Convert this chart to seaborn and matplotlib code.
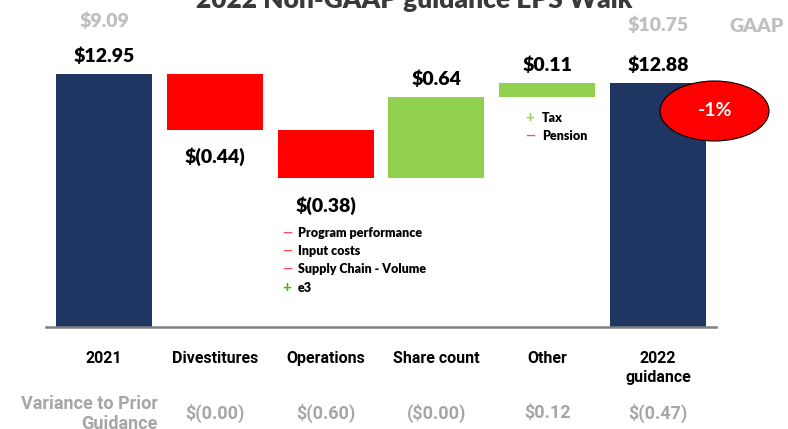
import numpy as np
import pandas as pd
import matplotlib
matplotlib.use("Agg")
import matplotlib.pyplot as plt
import matplotlib.transforms as mtransforms
from matplotlib.patches import Ellipse
import seaborn as sns

# ---------------- data ----------------
categories = ["2021", "Divestitures", "Operations", "Share count", "Other", "2022\nguidance"]
eps_2021 = 12.95
changes = [-0.44, -0.38, 0.64, 0.11]
eps_2022 = 12.88
value_labels = ["$12.95", "$(0.44)", "$(0.38)", "$0.64", "$0.11", "$12.88"]
gaap_labels = ["$9.09", "", "", "", "", "$10.75"]
variance_labels = ["", "$(0.00)", "$(0.60)", "($0.00)", "$0.12", "$(0.47)"]
ops_signs = ["\u2014", "\u2014", "\u2014", "+"]
ops_drivers = ["Program performance", "Input costs", "Supply Chain - Volume", "e3"]
other_signs = ["+", "\u2014"]
other_drivers = ["Tax", "Pension"]
title = "2022 Non-GAAP guidance EPS Walk"
badge = "-1%"

# ---------------- style ----------------
sns.set_theme(style="white")
plt.rcParams["font.family"] = ["Lato", "DejaVu Sans"]

NAVY = "#1f3562"
RED = "#ff0000"
GREEN = "#92d050"
GRAY = "#bfbfbf"
VGRAY = "#a6a6a6"
NARROW = ["Liberation Sans Narrow", "Roboto", "DejaVu Sans"]
W = "heavy"

AXIS_FLOOR = 10.96

# waterfall geometry from the values
bottoms, heights, colors = [], [], []
bottoms.append(AXIS_FLOOR); heights.append(eps_2021 - AXIS_FLOOR); colors.append(NAVY)
running = eps_2021
for d in changes:
    end = running + d
    bottoms.append(min(running, end)); heights.append(abs(d))
    colors.append(RED if d < 0 else GREEN)
    running = end
bottoms.append(AXIS_FLOOR); heights.append(eps_2022 - AXIS_FLOOR); colors.append(NAVY)
bottoms = np.array(bottoms); heights = np.array(heights)
tops = bottoms + heights

df = pd.DataFrame({"category": categories, "height": heights})

fig = plt.figure(figsize=(7.88, 4.29), dpi=100)
ax = fig.add_axes([46 / 788, 102 / 429, 670 / 788, 327 / 429])

sns.barplot(data=df, x="category", y="height", order=categories, bottom=bottoms,
            width=0.866, errorbar=None, color=NAVY, saturation=1, ax=ax)
for patch, c in zip(ax.patches, colors):
    patch.set_facecolor(c)
    patch.set_edgecolor("none")

ax.set_ylim(AXIS_FLOOR, AXIS_FLOOR + 327 / 127)
ax.set_xlim(-0.523, 5.523)
ax.set_yticks([])
ax.set_xlabel("")
ax.set_ylabel("")
for s in ["top", "left", "right"]:
    ax.spines[s].set_visible(False)
ax.spines["bottom"].set_color("#808080")
ax.spines["bottom"].set_linewidth(1.8)

ax.set_xticks(range(len(categories)))
ax.set_xticklabels(categories, family=NARROW, fontweight="bold", fontsize=11.5,
                   color="black", linespacing=1.35)
ax.tick_params(axis="x", length=0, pad=17)

# value labels
for i, lab in enumerate(value_labels):
    neg = i in (1, 2)
    y = bottoms[i] if neg else tops[i]
    off = -27 if neg else 18
    ax.annotate(lab, (i, y), xytext=(0, off), textcoords="offset pixels",
                ha="center", va="center", fontsize=14, fontweight=W, color="black")

# GAAP labels
trans = mtransforms.blended_transform_factory(ax.transData, fig.transFigure)
for i, lab in enumerate(gaap_labels):
    if lab:
        ypx = 21 if i == 0 else 25
        ax.text(i, 1 - ypx / 429, lab, transform=trans, ha="center", va="center",
                fontsize=14, fontweight=W, color=GRAY, clip_on=False)
fig.text(730 / 788, 1 - 26 / 429, "GAAP", ha="left", va="center", fontsize=14,
         fontweight=W, color=GRAY)

# variance row
for i, lab in enumerate(variance_labels):
    if lab:
        ax.text(i, 1 - 413 / 429, lab, transform=trans, ha="center", va="center",
                fontsize=13, fontweight="bold", color=VGRAY, family=NARROW, clip_on=False)
fig.text(158 / 788, 1 - 414 / 429, "Variance to Prior\nGuidance", ha="right", va="center",
         multialignment="right", fontsize=13, fontweight="bold", color=VGRAY,
         family=NARROW, linespacing=1.2)

# driver notes
for k, (s, t) in enumerate(zip(ops_signs, ops_drivers)):
    ypx = [233, 251, 269, 288][k]
    fig.text(287 / 788, 1 - ypx / 429, s, ha="center", va="center",
             fontsize=9 if s != "+" else 11, fontweight="bold",
             color="#ff4d4d" if s != "+" else "#4caf1f")
    fig.text(298 / 788, 1 - ypx / 429, t, ha="left", va="center", fontsize=9,
             fontweight=W, color="black")
for k, (s, t) in enumerate(zip(other_signs, other_drivers)):
    ypx = [118, 136][k]
    fig.text(530 / 788, 1 - ypx / 429, s, ha="center", va="center",
             fontsize=9 if s != "+" else 11, fontweight="bold",
             color="#ff4d4d" if s != "+" else GREEN)
    fig.text(542 / 788, 1 - ypx / 429, t, ha="left", va="center", fontsize=9,
             fontweight=W, color="black")

# title (partly cut off at the top)
fig.text(414 / 788, 1 - 8 / 429, title, ha="center", va="baseline", fontsize=19,
         fontweight=W, color="#3a3a3a")

# badge
ell = Ellipse((714.5 / 788, 1 - 111 / 429), 109 / 788, 60 / 429, transform=fig.transFigure,
              facecolor=RED, edgecolor="black", linewidth=0.8)
fig.add_artist(ell)
fig.text(715 / 788, 1 - 111 / 429, badge, ha="center", va="center", fontsize=14,
         color="white", fontweight="bold")

fig.savefig("out.png", dpi=100)
